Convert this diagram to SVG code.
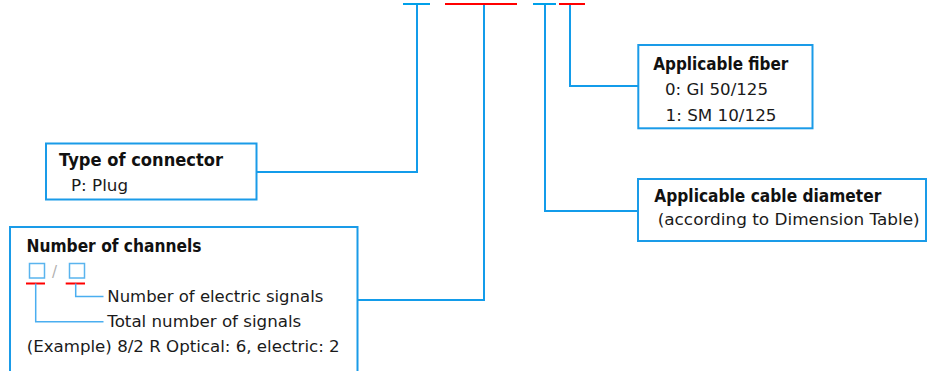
<svg xmlns="http://www.w3.org/2000/svg" width="927" height="371" viewBox="0 0 927 371">
<style>
.box{fill:#fff;stroke:#1a9be8;stroke-width:2}
.con{fill:none;stroke:#139cea;stroke-width:2}
.bb{fill:none;stroke:#00a0e9;stroke-width:2}
.rb{fill:none;stroke:#ff0000;stroke-width:2}
.ld{fill:none;stroke:#4aaef0;stroke-width:1.5}
.sq{fill:none;stroke:#5ab4ee;stroke-width:1.5}
.t{font-family:"DejaVu Sans","Liberation Sans",sans-serif;font-size:16px;fill:#1a1a1a}
.h{font-family:"DejaVu Sans","Liberation Sans",sans-serif;font-size:17px;font-weight:bold;fill:#111}
</style>
<rect width="927" height="371" fill="#fff"/>
<g id="connectors">
<path class="con" d="M417,4 V172 H257"/>
<path class="con" d="M484,4 V300 H358"/>
<path class="con" d="M545,4 V211 H638"/>
<path class="con" d="M570,4 V86 H638"/>
<path class="bb" d="M403,4 H430"/>
<path class="rb" d="M445,4 H517"/>
<path class="bb" d="M533,4 H556"/>
<path class="rb" d="M559,4 H585"/>
</g>
<g id="type-of-connector">
<rect class="box" x="46" y="143.5" width="210.5" height="56"/>
<text class="h" x="59" y="166" textLength="164" lengthAdjust="spacingAndGlyphs">Type of connector</text>
<text class="t" x="71" y="190.5" textLength="57" lengthAdjust="spacingAndGlyphs">P: Plug</text>
</g>
<g id="number-of-channels">
<path class="box" d="M10,372 V227 H357.5 V372"/>
<text class="h" x="26.5" y="252.3" textLength="175" lengthAdjust="spacingAndGlyphs">Number of channels</text>
<rect class="sq" x="29.5" y="263.5" width="15" height="14.5"/>
<text x="52" y="276.5" style="font-family:'DejaVu Sans',sans-serif;font-size:15px;fill:#b0b0b0">/</text>
<rect class="sq" x="69.5" y="263.5" width="15" height="14.5"/>
<path class="rb" d="M26,283.5 H45 M65.7,283.5 H85" style="stroke-width:1.8"/>
<path class="ld" d="M75.7,283.5 V296.5 H103.5"/>
<path class="ld" d="M35.7,283.5 V321.7 H103.5"/>
<text class="t" x="107.3" y="302.3" textLength="216" lengthAdjust="spacingAndGlyphs">Number of electric signals</text>
<text class="t" x="107.3" y="327" textLength="194" lengthAdjust="spacingAndGlyphs">Total number of signals</text>
<text class="t" x="26.7" y="351.7" textLength="313" lengthAdjust="spacingAndGlyphs">(Example) 8/2 R Optical: 6, electric: 2</text>
</g>
<g id="applicable-fiber">
<rect class="box" x="638.3" y="45" width="174.2" height="83.3"/>
<text class="h" x="653.3" y="70" textLength="135" lengthAdjust="spacingAndGlyphs">Applicable fiber</text>
<text class="t" x="665" y="95" textLength="103" lengthAdjust="spacingAndGlyphs">0: GI 50/125</text>
<text class="t" x="665.5" y="121" textLength="111" lengthAdjust="spacingAndGlyphs">1: SM 10/125</text>
</g>
<g id="applicable-cable-diameter">
<rect class="box" x="638" y="179" width="288" height="62"/>
<text class="h" x="654.3" y="201.7" textLength="227" lengthAdjust="spacingAndGlyphs">Applicable cable diameter</text>
<text class="t" x="657.7" y="225" textLength="262" lengthAdjust="spacingAndGlyphs">(according to Dimension Table)</text>
</g>
</svg>
